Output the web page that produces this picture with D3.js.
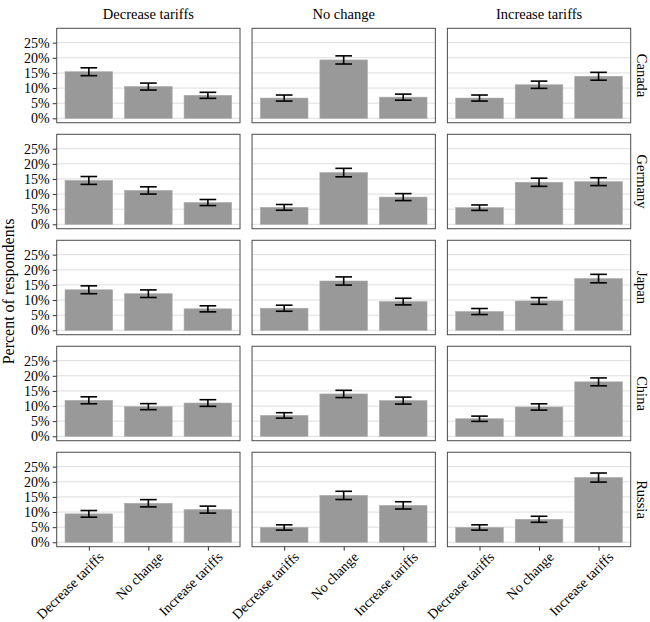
<!DOCTYPE html>
<html>
<head>
<meta charset="utf-8">
<script src="https://cdn.jsdelivr.net/npm/d3@7"></script>
<style>
  body { margin: 0; background: #fff; }
  text { font-family: "Liberation Serif", "Times New Roman", serif; fill: #000; }
</style>
</head>
<body>
<div id="chart"></div>
<script>
// facet rows / columns and the x categories
var countries = ["Canada", "Germany", "Japan", "China", "Russia"];
var treatments = ["Decrease tariffs", "No change", "Increase tariffs"];
var responses = ["Decrease tariffs", "No change", "Increase tariffs"];
var yTicks = [0, 5, 10, 15, 20, 25];

// percent of respondents, [treatment][response]
var canadaPct  = [[15.4, 10.5, 7.6], [6.7, 19.3, 7.0], [6.7, 11.1, 13.9]];
var germanyPct = [[14.5, 11.2, 7.2], [5.6, 17.1, 9.0], [5.5, 13.9, 14.1]];
var japanPct   = [[13.4, 12.1, 7.1], [7.3, 16.3, 9.5], [6.2, 9.7, 17.1]];
var chinaPct   = [[11.9, 9.8, 11.0], [6.9, 14.0, 11.8], [5.8, 9.7, 18.0]];
var russiaPct  = [[9.4, 12.9, 10.8], [4.9, 15.5, 12.2], [4.9, 7.6, 21.4]];

// half width of the error bars, same layout
var canadaErr  = [[1.3, 1.15, 1.0], [1.0, 1.35, 1.0], [1.0, 1.2, 1.3]];
var germanyErr = [[1.3, 1.2, 1.0], [0.95, 1.4, 1.15], [0.9, 1.35, 1.3]];
var japanErr   = [[1.3, 1.25, 1.0], [1.0, 1.35, 1.1], [1.0, 1.1, 1.4]];
var chinaErr   = [[1.15, 1.0, 1.1], [0.9, 1.2, 1.15], [0.87, 1.04, 1.3]];
var russiaErr  = [[1.1, 1.2, 1.15], [0.87, 1.36, 1.2], [0.87, 1.0, 1.5]];

var pctByCountry = [canadaPct, germanyPct, japanPct, chinaPct, russiaPct];
var errByCountry = [canadaErr, germanyErr, japanErr, chinaErr, russiaErr];

// flatten into rows for the data join
var dataset = [];
countries.forEach(function (c, ci) {
    treatments.forEach(function (t, ti) {
        responses.forEach(function (r, ri) {
            dataset.push({
                country: c, treatment: t, response: r,
                pct: pctByCountry[ci][ti][ri],
                err: errByCountry[ci][ti][ri]
            });
        });
    });
});

var width = 650, height = 622;
var serif = "'Liberation Serif', 'Times New Roman', serif";

var svg = d3.select("#chart")
    .append("svg")
    .attr("width", width)
    .attr("height", height);

// panel placement
var colScale = d3.scaleBand()
    .domain(treatments)
    .range([56.7, 630.7])
    .paddingInner(0.0615);

var rowScale = d3.scaleBand()
    .domain(countries)
    .range([28.3, 546.7])
    .paddingInner(0.109);

var panelW = colScale.bandwidth();
var panelH = rowScale.bandwidth();

// scales inside a panel
var xScale = d3.scalePoint()
    .domain(responses)
    .range([0, panelW])
    .padding(0.54);

var yScale = d3.scaleLinear()
    .domain([-1.46, 29.76])
    .range([panelH, 0]);

var step = xScale.step();
var barW = step * 0.8;
var capW = step * 0.28;

countries.forEach(function (country, ci) {
    treatments.forEach(function (treat, ti) {
        var g = svg.append("g")
            .attr("transform", "translate(" + colScale(treat) + "," + rowScale(country) + ")");

        // grid lines
        g.selectAll(".grid")
            .data(yTicks)
            .enter()
            .append("line")
            .attr("x1", 0)
            .attr("x2", panelW)
            .attr("y1", function (d) { return yScale(d); })
            .attr("y2", function (d) { return yScale(d); })
            .attr("stroke", "#dedede")
            .attr("stroke-width", 1);

        var cell = dataset.filter(function (d) {
            return d.country == country && d.treatment == treat;
        });

        // bars
        g.selectAll("rect.bar")
            .data(cell)
            .enter()
            .append("rect")
            .attr("class", "bar")
            .attr("x", function (d) { return xScale(d.response) - barW / 2; })
            .attr("y", function (d) { return yScale(d.pct); })
            .attr("width", barW)
            .attr("height", function (d) { return yScale(0) - yScale(d.pct); })
            .attr("fill", "#999999")
            .attr("stroke", "#ababab")
            .attr("stroke-width", 0.6);

        // error bars
        var eb = g.selectAll("g.eb")
            .data(cell)
            .enter()
            .append("g")
            .attr("class", "eb")
            .attr("stroke", "#000")
            .attr("stroke-width", 1.6);
        eb.append("line")
            .attr("x1", function (d) { return xScale(d.response); })
            .attr("x2", function (d) { return xScale(d.response); })
            .attr("y1", function (d) { return yScale(d.pct - d.err); })
            .attr("y2", function (d) { return yScale(d.pct + d.err); });
        eb.append("line")
            .attr("x1", function (d) { return xScale(d.response) - capW / 2; })
            .attr("x2", function (d) { return xScale(d.response) + capW / 2; })
            .attr("y1", function (d) { return yScale(d.pct + d.err); })
            .attr("y2", function (d) { return yScale(d.pct + d.err); });
        eb.append("line")
            .attr("x1", function (d) { return xScale(d.response) - capW / 2; })
            .attr("x2", function (d) { return xScale(d.response) + capW / 2; })
            .attr("y1", function (d) { return yScale(d.pct - d.err); })
            .attr("y2", function (d) { return yScale(d.pct - d.err); });

        // panel border
        g.append("rect")
            .attr("x", 0)
            .attr("y", 0)
            .attr("width", panelW)
            .attr("height", panelH)
            .attr("fill", "none")
            .attr("stroke", "#4a4a4a")
            .attr("stroke-width", 1);

        // y axis on first column
        if (ti == 0) {
            var yAxis = d3.axisLeft(yScale)
                .tickValues(yTicks)
                .tickSize(4)
                .tickPadding(3)
                .tickFormat(function (d) { return d + "%"; });
            var ya = g.append("g").call(yAxis)
                .attr("font-family", serif)
                .attr("font-size", 14);
            ya.select(".domain").remove();
            ya.selectAll(".tick line").attr("stroke", "#333");
            ya.selectAll(".tick text").attr("fill", "#3a3a3a");
        }

        // x axis on bottom row
        if (ci == countries.length - 1) {
            var xAxis = d3.axisBottom(xScale).tickSize(4).tickPadding(2);
            var xa = g.append("g")
                .attr("transform", "translate(0," + panelH + ")")
                .call(xAxis)
                .attr("font-family", serif)
                .attr("font-size", 14);
            xa.select(".domain").remove();
            xa.selectAll(".tick line").attr("stroke", "#333");
            xa.selectAll(".tick text")
                .attr("fill", "#3a3a3a")
                .style("text-anchor", "end")
                .attr("dy", "0.6em")
                .attr("transform", "translate(5,1) rotate(-45)");
        }

        // strip labels
        if (ci == 0) {
            svg.append("text")
                .attr("x", colScale(treat) + panelW / 2)
                .attr("y", rowScale(country) - 9)
                .style("text-anchor", "middle")
                .style("font-size", "14.5px")
                .text(treat);
        }
        if (ti == treatments.length - 1) {
            var cx = colScale(treat) + panelW + 11;
            var cy = rowScale(country) + panelH / 2;
            svg.append("text")
                .attr("transform", "translate(" + cx + "," + cy + ") rotate(90)")
                .style("text-anchor", "middle")
                .attr("dy", "0.35em")
                .style("font-size", "14.5px")
                .text(country);
        }
    });
});

// y axis title
svg.append("text")
    .attr("transform", "translate(14," + ((rowScale.range()[0] + rowScale.range()[1]) / 2 + 4) + ") rotate(-90)")
    .style("text-anchor", "middle")
    .style("font-size", "16px")
    .text("Percent of respondents");
</script>
</body>
</html>
